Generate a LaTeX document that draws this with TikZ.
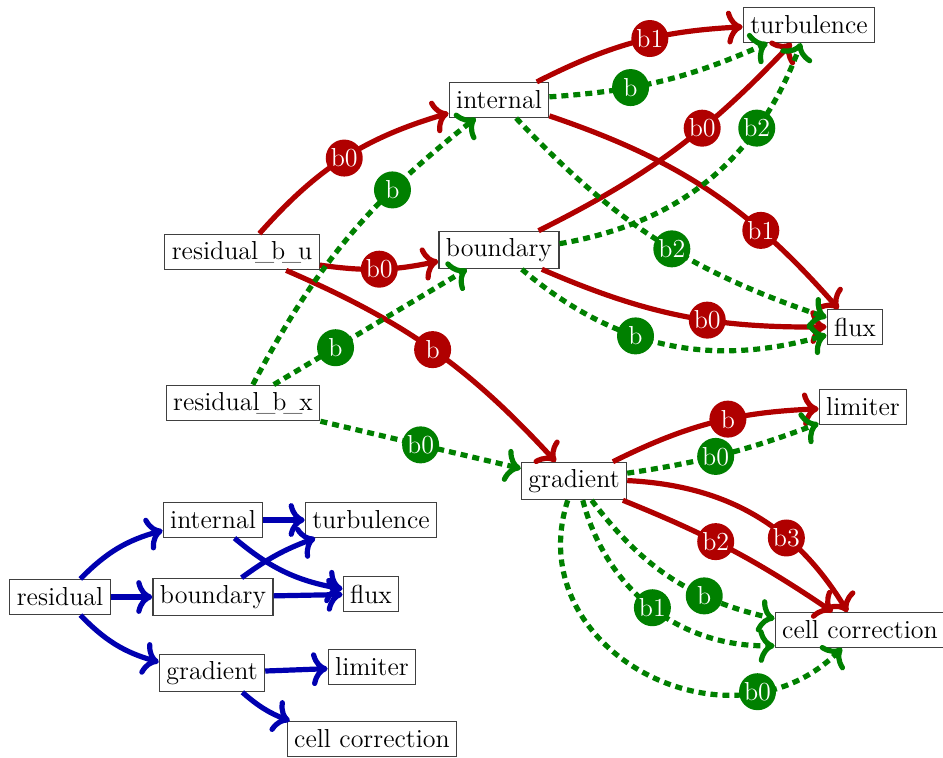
\documentclass[tikz,border=0pt]{standalone}
\usetikzlibrary{arrows.meta}
\definecolor{depred}{RGB}{176,0,0}
\definecolor{depgreen}{RGB}{0,128,0}
\definecolor{depblue}{RGB}{0,0,176}
\newcommand{\us}{\kern-.12em\_\kern-.12em}

\begin{document}
\begin{tikzpicture}[
  x=0.5pt, y=0.5pt,
  every node/.style={font=\fontsize{13}{15}\selectfont},
  box/.style={draw=black!75, fill=white, line width=0.6pt, inner sep=3.5pt, minimum height=17.5pt},
  tag/.style={circle, text=white, inner sep=0.5pt, minimum size=18.5pt},
  rtag/.style={tag, fill=depred},
  gtag/.style={tag, fill=depgreen},
  rdep/.style={draw=depred, line width=2.6pt, -{To[scale=1.1]}},
  gdep/.style={draw=depgreen, line width=2.6pt, dash pattern=on 3.5pt off 2.5pt, -{To[scale=1.1]}},
  bdep/.style={draw=depblue, line width=2.6pt, -{To[scale=1.1]}}
]
  \useasboundingbox (0,0) rectangle (943,-757);

  % detailed graph
  \node[box] (int)  at (499,-100) {internal};
  \node[box] (turb) at (809,-25)  {turbulence};
  \node[box] (rbu)  at (242,-252) {residual\us b\us u};
  \node[box] (bnd)  at (499,-250) {boundary};
  \node[box] (flux) at (855,-327) {flux};
  \node[box] (rbx)  at (243,-403) {residual\us b\us x};
  \node[box] (grad) at (574,-481) {gradient};
  \node[box] (lim)  at (863,-407) {limiter};
  \node[box] (cell) at (860,-630) {cell correction};

  \draw[rdep] (rbu) to[bend left=16] node[rtag] {b0} (int);
  \draw[rdep] (rbu) to[bend right=10] node[rtag] {b0} (bnd);
  \draw[rdep] (rbu) to[bend left=12] node[rtag] {b} (grad);
  \draw[rdep] (int) to[bend left=12] node[rtag, pos=.57] {b1} (turb);
  \draw[rdep] (int) to[bend left=15] node[rtag, pos=.7] {b1} (flux);
  \draw[rdep] (bnd) to[bend right=10] node[rtag, pos=.62] {b0} (turb);
  \draw[rdep] (bnd) to[bend right=12] node[rtag, pos=.6] {b0} (flux);
  \draw[rdep] (grad) to[bend left=12] node[rtag, pos=.58] {b} (lim);
  \draw[rdep] (grad) to[bend left=6] node[rtag, pos=.42] {b2} (cell);
  \draw[rdep] (grad) to[bend left=28] node[rtag, pos=.65] {b3} (cell);

  \draw[gdep] (rbx) to[bend left=12] node[gtag, pos=.7] {b} (int);
  \draw[gdep] (rbx) -- node[gtag, pos=.32] {b} (bnd);
  \draw[gdep] (rbx) -- node[gtag] {b0} (grad);
  \draw[gdep] (int) to[bend right=10] node[gtag, pos=.35] {b} (turb);
  \draw[gdep] (int) to[bend right=14] node[gtag, pos=.55] {b2} (flux);
  \draw[gdep] (bnd) to[bend right=30] node[gtag, pos=.72] {b2} (turb);
  \draw[gdep] (bnd) to[bend right=28] node[gtag, pos=.4] {b} (flux);
  \draw[gdep] (grad) to[bend right=6] node[gtag, pos=.45] {b0} (lim);
  \draw[gdep] (grad) to[bend right=20] node[gtag, pos=.68] {b} (cell);
  \draw[gdep] (grad) to[bend right=38] node[gtag, pos=.5] {b1} (cell);
  \draw[gdep] (grad) to[out=-108, in=-135, looseness=1.3] node[gtag, pos=.78] {b0} (cell);

  % overview graph
  \node[box] (res)   at (60,-597)  {residual};
  \node[box] (lint)  at (213,-520) {internal};
  \node[box] (lbnd)  at (213,-597) {boundary};
  \node[box] (lturb) at (371,-520) {turbulence};
  \node[box] (lflux) at (371,-594) {flux};
  \node[box] (lgrad) at (212,-673) {gradient};
  \node[box] (llim)  at (372,-667) {limiter};
  \node[box] (lcell) at (372,-739) {cell correction};

  \draw[bdep] (res) to[bend left=15] (lint);
  \draw[bdep] (res) -- (lbnd);
  \draw[bdep] (res) to[bend right=15] (lgrad);
  \draw[bdep] (lint) -- (lturb);
  \draw[bdep] (lint) to[bend right=15] (lflux);
  \draw[bdep] (lbnd) to[bend left=8] (lturb);
  \draw[bdep] (lbnd) -- (lflux);
  \draw[bdep] (lgrad) -- (llim);
  \draw[bdep] (lgrad) to[bend right=10] (lcell);
\end{tikzpicture}
\end{document}
